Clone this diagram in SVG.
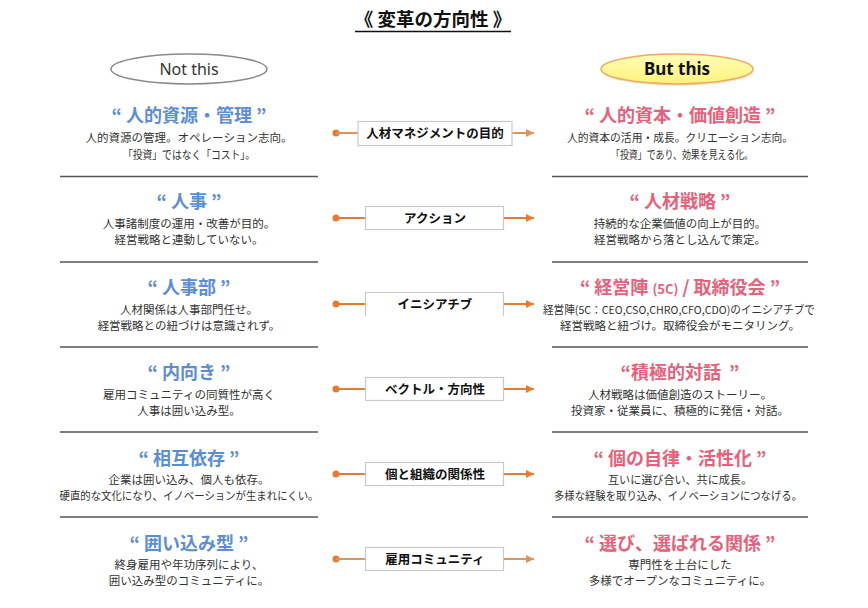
<svg xmlns="http://www.w3.org/2000/svg" width="868" height="608" viewBox="0 0 868 608">
<defs>
<marker id="arr" viewBox="0 0 8 8" refX="8" refY="4" markerWidth="8" markerHeight="8" markerUnits="userSpaceOnUse" orient="auto">
<path d="M0,0 L8,4 L0,8 Z" fill="#E97B2C"/>
</marker>
<marker id="arr2" viewBox="0 0 8 8" refX="8" refY="4" markerWidth="8" markerHeight="8" markerUnits="userSpaceOnUse" orient="auto">
<path d="M0,0 L8,4 L0,8 Z" fill="#E0935A"/>
</marker>
<linearGradient id="yel" x1="0" y1="0" x2="0" y2="1">
<stop offset="0" stop-color="#FFFFB8"/>
<stop offset="1" stop-color="#FFF27A"/>
</linearGradient>
</defs>
<style>
text{font-family:"Noto Sans CJK JP","Noto Sans",sans-serif;text-anchor:middle}
.title{font-size:18.5px;font-weight:bold;fill:#111}
.hl{font-size:18px;font-weight:bold;fill:#5B8ED4}
.hr{font-size:18px;font-weight:bold;fill:#E8617A}
.body{font-size:11.5px;fill:#333}
.lab{font-size:12.5px;font-weight:bold;fill:#111}
.sep{stroke:#555;stroke-width:1.3}
.box{fill:#fff;stroke:#C8C8C8;stroke-width:1.2}
.cl{stroke:#E97B2C;stroke-width:2;fill:none}
.cl2{stroke:#E0935A;stroke-width:2;fill:none}
.dot{fill:#E97B2C}
</style>
<rect width="868" height="608" fill="#fff"/>
<g id="title">
<text class="title" x="433" y="26">《 変革の方向性 》</text>
<line x1="355" y1="31.5" x2="511" y2="31.5" stroke="#111" stroke-width="1.3"/>
</g>
<g id="not-this">
<ellipse cx="189" cy="69" rx="78" ry="15" fill="#fff" stroke="#8A8A8A" stroke-width="1.5"/>
<text x="189" y="75" style="font-family:'Noto Sans',sans-serif;font-size:16px;fill:#333">Not this</text>
</g>
<g id="but-this">
<ellipse cx="678" cy="71" rx="76" ry="15" fill="#E8D8B0" opacity="0.5"/>
<ellipse cx="677" cy="69" rx="76" ry="15" fill="url(#yel)" stroke="#F0A860" stroke-width="1.5"/>
<text x="677" y="75" style="font-family:'Noto Sans',sans-serif;font-size:17px;font-weight:bold;fill:#111">But this</text>
</g>

<g id="left-1">
<text class="hl" x="189" y="122">“ 人的資源・管理 ”</text>
<text class="body" x="189" y="142">人的資源の管理。オペレーション志向。</text>
<text class="body" x="189" y="159" textLength="132" lengthAdjust="spacingAndGlyphs">「投資」ではなく「コスト」。</text>
<line class="sep" x1="60" y1="176.5" x2="318" y2="176.5"/>
</g>
<g id="left-2">
<text class="hl" x="189" y="208">“ 人事 ”</text>
<text class="body" x="189" y="228">人事諸制度の運用・改善が目的。</text>
<text class="body" x="189" y="244">経営戦略と連動していない。</text>
<line class="sep" x1="60" y1="262" x2="318" y2="262"/>
</g>
<g id="left-3">
<text class="hl" x="189" y="294">“ 人事部 ”</text>
<text class="body" x="189" y="314">人材関係は人事部門任せ。</text>
<text class="body" x="189" y="330">経営戦略との紐づけは意識されず。</text>
<line class="sep" x1="60" y1="347" x2="318" y2="347"/>
</g>
<g id="left-4">
<text class="hl" x="189" y="379">“ 内向き ”</text>
<text class="body" x="189" y="399">雇用コミュニティの同質性が高く</text>
<text class="body" x="189" y="415">人事は囲い込み型。</text>
<line class="sep" x1="60" y1="432" x2="318" y2="432"/>
</g>
<g id="left-5">
<text class="hl" x="189" y="465">“ 相互依存 ”</text>
<text class="body" x="189" y="484">企業は囲い込み、個人も依存。</text>
<text class="body" x="189" y="500" textLength="259" lengthAdjust="spacingAndGlyphs">硬直的な文化になり、イノベーションが生まれにくい。</text>
<line class="sep" x1="60" y1="517" x2="318" y2="517"/>
</g>
<g id="left-6">
<text class="hl" x="189" y="550">“ 囲い込み型 ”</text>
<text class="body" x="189" y="569">終身雇用や年功序列により、</text>
<text class="body" x="189" y="585">囲い込み型のコミュニティに。</text>
</g>

<g id="right-1">
<text class="hr" x="680" y="122">“ 人的資本・価値創造 ”</text>
<text class="body" x="680" y="142" textLength="226" lengthAdjust="spacingAndGlyphs">人的資本の活用・成長。クリエーション志向。</text>
<text class="body" x="682" y="159" textLength="142" lengthAdjust="spacingAndGlyphs">「投資」であり、効果を見える化。</text>
<line class="sep" x1="552" y1="176.5" x2="808" y2="176.5"/>
</g>
<g id="right-2">
<text class="hr" x="680" y="208">“ 人材戦略 ”</text>
<text class="body" x="680" y="228">持続的な企業価値の向上が目的。</text>
<text class="body" x="680" y="244">経営戦略から落とし込んで策定。</text>
<line class="sep" x1="552" y1="262" x2="808" y2="262"/>
</g>
<g id="right-3">
<text class="hr" x="680" y="294">“ 経営陣 <tspan style="font-size:13px">(5C)</tspan> / 取締役会 ”</text>
<text class="body" x="679" y="314" style="font-size:11px" textLength="272" lengthAdjust="spacingAndGlyphs">経営陣(5C：CEO,CSO,CHRO,CFO,CDO)のイニシアチブで</text>
<text class="body" x="680" y="330">経営戦略と紐づけ。取締役会がモニタリング。</text>
<line class="sep" x1="552" y1="347" x2="808" y2="347"/>
</g>
<g id="right-4">
<text class="hr" x="680" y="379" xml:space="preserve">“積極的対話  ”</text>
<text class="body" x="680" y="399">人材戦略は価値創造のストーリー。</text>
<text class="body" x="680" y="415">投資家・従業員に、積極的に発信・対話。</text>
<line class="sep" x1="552" y1="432" x2="808" y2="432"/>
</g>
<g id="right-5">
<text class="hr" x="680" y="465">“ 個の自律・活性化 ”</text>
<text class="body" x="680" y="484" textLength="144" lengthAdjust="spacingAndGlyphs">互いに選び合い、共に成長。</text>
<text class="body" x="678" y="500" textLength="248" lengthAdjust="spacingAndGlyphs">多様な経験を取り込み、イノベーションにつなげる。</text>
<line class="sep" x1="552" y1="517" x2="808" y2="517"/>
</g>
<g id="right-6">
<text class="hr" x="680" y="550">“ 選び、選ばれる関係 ”</text>
<text class="body" x="680" y="569">専門性を土台にした</text>
<text class="body" x="680" y="585">多様でオープンなコミュニティに。</text>
</g>

<g id="connectors">
<circle class="dot" cx="336" cy="133" r="3.5"/>
<line class="cl2" x1="336" y1="133" x2="358" y2="133"/>
<line class="cl2" x1="512" y1="133" x2="534" y2="133" marker-end="url(#arr2)"/>
<circle class="dot" cx="336" cy="218" r="3.5"/>
<line class="cl" x1="336" y1="218" x2="365" y2="218"/>
<line class="cl" x1="504" y1="218" x2="534" y2="218" marker-end="url(#arr)"/>
<circle class="dot" cx="336" cy="304" r="3.5"/>
<line class="cl" x1="336" y1="304" x2="365" y2="304"/>
<line class="cl" x1="504" y1="304" x2="534" y2="304" marker-end="url(#arr)"/>
<circle class="dot" cx="336" cy="389" r="3.5"/>
<line class="cl" x1="336" y1="389" x2="365" y2="389"/>
<line class="cl" x1="504" y1="389" x2="534" y2="389" marker-end="url(#arr)"/>
<circle class="dot" cx="336" cy="474" r="3.5"/>
<line class="cl" x1="336" y1="474" x2="365" y2="474"/>
<line class="cl" x1="504" y1="474" x2="534" y2="474" marker-end="url(#arr)"/>
<circle class="dot" cx="336" cy="559" r="3.5"/>
<line class="cl2" x1="336" y1="559" x2="365" y2="559"/>
<line class="cl2" x1="504" y1="559" x2="534" y2="559" marker-end="url(#arr2)"/>
</g>

<g id="box-1">
<rect class="box" x="358" y="121.5" width="154" height="24"/>
<text class="lab" x="435" y="138">人材マネジメントの目的</text>
</g>
<g id="box-2">
<rect class="box" x="365.5" y="206.5" width="138" height="23"/>
<text class="lab" x="435" y="222.5">アクション</text>
</g>
<g id="box-3">
<path class="box" d="M365.5,316 V292.5 H503.5 V316"/>
<text class="lab" x="435" y="308.5">イニシアチブ</text>
</g>
<g id="box-4">
<rect class="box" x="365.5" y="377.5" width="138" height="23"/>
<text class="lab" x="435" y="393.5">ベクトル・方向性</text>
</g>
<g id="box-5">
<rect class="box" x="365.5" y="462.5" width="138" height="23"/>
<text class="lab" x="435" y="478.5">個と組織の関係性</text>
</g>
<g id="box-6">
<rect class="box" x="365.5" y="547.5" width="138" height="23"/>
<text class="lab" x="435" y="563.5">雇用コミュニティ</text>
</g>
</svg>
